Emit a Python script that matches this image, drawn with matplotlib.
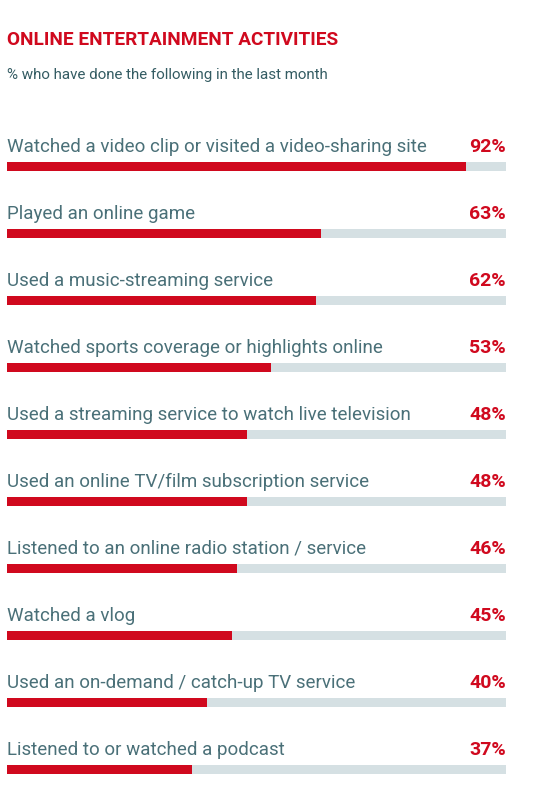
import matplotlib.pyplot as plt

activities = [
    'Watched a video clip or visited a video-sharing site',
    'Played an online game',
    'Used a music-streaming service',
    'Watched sports coverage or highlights online',
    'Used a streaming service to watch live television',
    'Used an online TV/film subscription service',
    'Listened to an online radio station / service',
    'Watched a vlog',
    'Used an on-demand / catch-up TV service',
    'Listened to or watched a podcast',
]
shares = [92, 63, 62, 53, 48, 48, 46, 45, 40, 37]

RED = '#d0091e'
GREY = '#d5e0e3'
TEXT = '#4a7078'

plt.rcParams['font.family'] = ['Roboto', 'DejaVu Sans']

W, H = 536, 800
fig = plt.figure(figsize=(W / 100, H / 100), dpi=100)
fig.patch.set_facecolor('white')

# axes placed in pixel terms: x 0..100 spans px 7..506, bar i centred at px 166 + 67*i
top_px, first_px, step_px = 100, 166, 67
ax = fig.add_axes([7 / W, 0, 499 / W, (H - top_px) / H])
ax.set_xlim(0, 100)
ax.set_ylim((H - first_px) / step_px, (top_px - first_px) / step_px)
ax.axis('off')

ys = list(range(len(activities)))
ax.barh(ys, [100] * len(ys), height=9 / step_px, color=GREY, linewidth=0)
ax.barh(ys, shares, height=9 / step_px, color=RED, linewidth=0)

for y, label, v in zip(ys, activities, shares):
    ax.text(0, y - 0.21, label, ha='left', va='baseline', fontsize=13.5, color=TEXT)
    ax.text(100, y - 0.21, f'{v}%', ha='right', va='baseline', fontsize=14,
            color=RED, fontweight='bold')

fig.text(7 / W, 1 - 45 / H, 'ONLINE ENTERTAINMENT ACTIVITIES', ha='left', va='baseline',
         fontsize=13.7, fontweight='bold', color=RED)
fig.text(7 / W, 1 - 79 / H, '% who have done the following in the last month', ha='left',
         va='baseline', fontsize=10.9, color='#345c63')

fig.savefig('out.png', dpi=100)
